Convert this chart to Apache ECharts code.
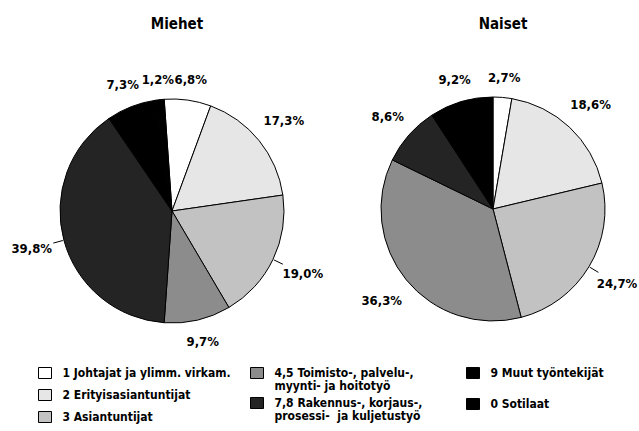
<!DOCTYPE html>
<html><head><meta charset="utf-8">
<script src="https://cdn.jsdelivr.net/npm/echarts@6/dist/echarts.min.js"></script>
<style>html,body{margin:0;padding:0;background:#fff}#c{width:639px;height:431px}</style>
</head><body><div id="c"></div>
<script>
// ---- data ----
const categories = [
  '1 Johtajat ja ylimm. virkam.',
  '2 Erityisasiantuntijat',
  '3 Asiantuntijat',
  '4,5 Toimisto-, palvelu-,\nmyynti- ja hoitotyö',
  '7,8 Rakennus-, korjaus-,\nprosessi-  ja kuljetustyö',
  '9 Muut työntekijät',
  '0 Sotilaat'
];
const pieTitles = ['Miehet', 'Naiset'];
const miehetValues = [6.8, 17.3, 19.0, 9.7, 39.8, 7.3, 1.2];
const naisetValues = [2.7, 18.6, 24.7, 36.3, 8.6, 9.2, 0];

// ---- styles ----
const colors = ['#ffffff', '#e6e6e6', '#c2c2c2', '#8c8c8c', '#242424', '#000000', '#000000'];
const FONT = "'DejaVu Sans Condensed', 'DejaVu Sans', sans-serif";
const R = 112;
const pies = [
  {title: pieTitles[0], values: miehetValues, cx: 172, cy: 211, start: -4, titleX: 172},
  {title: pieTitles[1], values: naisetValues, cx: 493, cy: 209, start: 0, titleX: 498}
];
const GAP = 12;

function fmt(v) { return v.toFixed(1).replace('.', ',') + '%'; }

// mid angles per series (radians, clockwise from 12 o'clock)
pies.forEach(p => {
  const total = p.values.reduce((a, b) => a + b, 0);
  let acc = p.start;
  p.mids = [];
  p.items = [];
  p.values.forEach((v, i) => {
    const span = v / total * 360;
    if (v > 0) {
      const mid = (acc + span / 2) * Math.PI / 180;
      p.mids.push(mid);
      p.items.push({
        name: categories[i],
        value: v,
        itemStyle: {color: colors[i]},
        labelLine: {show: Math.abs(Math.sin(mid)) > 0.85}
      });
    }
    acc += span;
  });
});

const series = pies.map((p, si) => ({
  type: 'pie',
  center: [p.cx, p.cy],
  radius: R,
  startAngle: 90 - p.start,
  clockwise: true,
  avoidLabelOverlap: false,
  silent: true,
  data: p.items,
  itemStyle: {borderColor: '#000', borderWidth: 1},
  label: {
    show: true, position: 'outside', formatter: d => fmt(d.value),
    color: '#000', fontFamily: FONT, fontWeight: 'bold', fontSize: 13
  },
  labelLine: {show: true, length: 4, length2: 0, lineStyle: {color: '#000', width: 1}},
  labelLayout: function (params) {
    const mid = p.mids[params.dataIndex];
    const sx = Math.sin(mid), sy = -Math.cos(mid);
    const w = params.labelRect.width, h = params.labelRect.height;
    const ext = Math.abs(sx) * w / 2 + Math.abs(sy) * h / 2;
    const d = R + GAP + ext;
    return {
      x: p.cx + d * sx, y: p.cy + d * sy,
      align: 'center', verticalAlign: 'middle',
      labelLinePoints: [[p.cx + (R + 1) * sx, p.cy + (R + 1) * sy], [p.cx + (R + GAP - 1) * sx, p.cy + (R + GAP - 1) * sy]]
    };
  }
}));

// legend: one component per entry; first text line aligned with the icon
const legendSlots = [
  {left: 38, yc: 373}, {left: 38, yc: 395}, {left: 38, yc: 417},
  {left: 250, yc: 373}, {left: 250, yc: 403},
  {left: 466, yc: 373}, {left: 466, yc: 404}
];
const LH = 13, LFS = 12, IW = 13, IH = 11;
const legends = categories.map((name, i) => {
  const extra = name.split('\n').length - 1;
  const shown = extra ? '\u00a0\n'.repeat(extra) + name : name;
  const nLines = 1 + 2 * extra;
  const blockH = nLines * LH;
  const top = legendSlots[i].yc - Math.max(IH, blockH) / 2;
  return {
    left: legendSlots[i].left, top: top, orient: 'vertical', padding: 0,
    itemWidth: IW, itemHeight: IH, selectedMode: false,
    itemStyle: {borderColor: '#000', borderWidth: 1},
    formatter: () => shown,
    textStyle: {fontFamily: FONT, fontSize: LFS, fontWeight: 'bold', color: '#000', lineHeight: LH, padding: [0, 0, 0, 6]},
    data: [{name: name, icon: 'rect'}]
  };
});

const chart = echarts.init(document.getElementById('c'), null, {renderer: 'svg'});
chart.setOption({
  animation: false,
  backgroundColor: '#fff',
  title: pies.map(p => ({
    text: p.title, left: p.titleX, top: 11, textAlign: 'center',
    textStyle: {fontFamily: FONT, fontWeight: 'bold', fontSize: 15, color: '#000'}
  })),
  legend: legends,
  series: series
});
</script></body></html>
